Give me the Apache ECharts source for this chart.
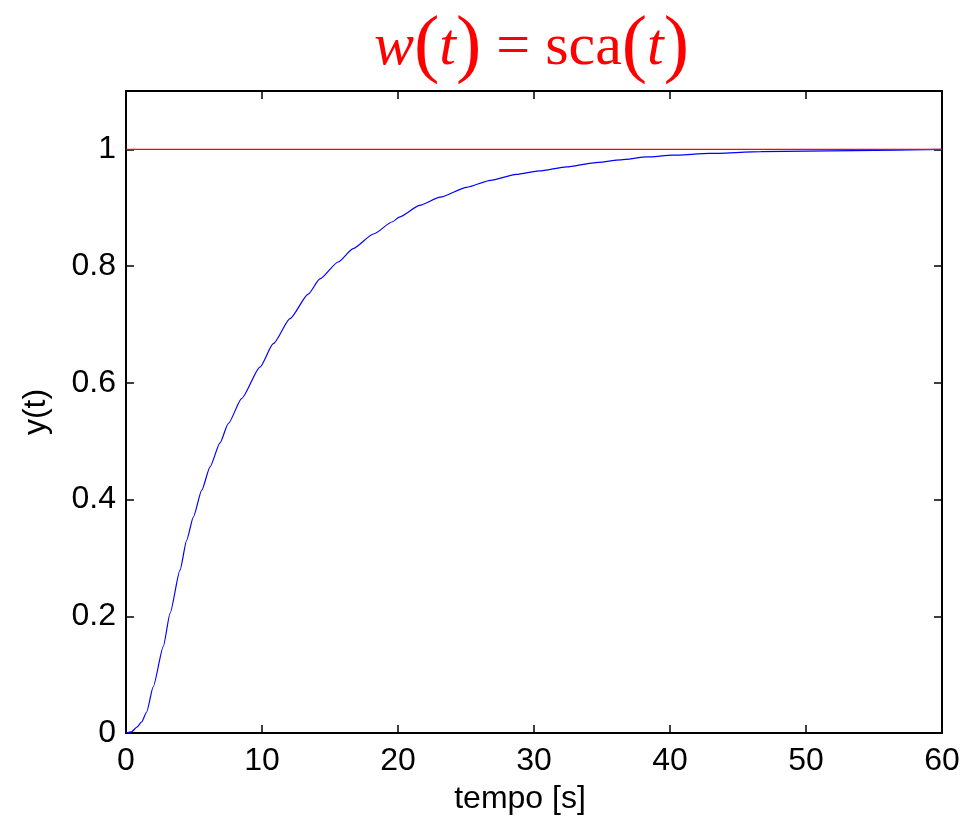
<!DOCTYPE html>
<html>
<head>
<meta charset="utf-8">
<script src="https://cdn.jsdelivr.net/npm/echarts@6/dist/echarts.min.js"></script>
<style>html,body{margin:0;padding:0;background:#fff;}#c{width:969px;height:820px;}</style>
</head>
<body>
<div id="c"></div>
<script>
const timeValues = [0, 0.4, 0.8, 1.15, 1.52, 2.0, 2.74, 3.24, 3.97, 4.46, 4.95, 5.57, 6.18, 6.91, 7.52, 8.5, 9.85, 10.83, 12.06, 13.4, 14.26, 15.6, 16.7, 18.2, 19.6, 20.1, 21.6, 23.1, 25.05, 26.8, 28.7, 30.4, 32.4, 34.4, 36.4, 38.3, 40.2, 42.9, 46.7, 50, 53.5, 60];
const outputValues = [0, 0.002, 0.010, 0.019, 0.036, 0.079, 0.148, 0.205, 0.279, 0.330, 0.370, 0.416, 0.456, 0.497, 0.530, 0.573, 0.627, 0.667, 0.710, 0.752, 0.778, 0.807, 0.830, 0.855, 0.876, 0.884, 0.904, 0.918, 0.935, 0.947, 0.957, 0.963, 0.970, 0.977, 0.982, 0.987, 0.990, 0.993, 0.996, 0.997, 0.998, 1.0];
const refTimes = [0, 60];
const refValues = [1, 1];
const xTicks = [0, 10, 20, 30, 40, 50, 60];
const yTicks = [0, 0.2, 0.4, 0.6, 0.8, 1];

const chart = echarts.init(document.getElementById('c'), null, {renderer: 'canvas'});
const axisLine = {show: true, onZero: false, lineStyle: {color: '#000', width: 2}};
const axisTick = {show: true, inside: true, length: 8, lineStyle: {color: '#000', width: 1.5}};
const lblFont = {color: '#000', fontFamily: 'Liberation Sans, Arial, sans-serif', fontSize: 32, fontWeight: 'normal'};
const serif = 'Liberation Serif, Times New Roman, serif';
chart.setOption({
  animation: false,
  backgroundColor: '#fff',
  title: {
    left: 369, top: 5,
    text: '{i|w}{p|(}{i|t}{p|)}{n| = sca}{p|(}{i|t}{p|)}',
    textStyle: {
      fontWeight: 'normal',
      rich: {
        i: {fontFamily: serif, fontStyle: 'italic', fontWeight: 'normal', fontSize: 60, color: '#ff0000'},
        n: {fontFamily: serif, fontWeight: 'normal', fontSize: 60, color: '#ff0000'},
        p: {fontFamily: serif, fontWeight: 'normal', fontSize: 76, color: '#ff0000'}
      }
    }
  },
  grid: {left: 126, right: 27, top: 91, bottom: 87, containLabel: false},
  xAxis: [{
    type: 'value', min: 0, max: 60, interval: 10, position: 'bottom',
    axisLine, axisTick, splitLine: {show: false},
    axisLabel: Object.assign({margin: 12}, lblFont),
    name: 'tempo [s]', nameLocation: 'middle', nameGap: 50,
    nameTextStyle: Object.assign({padding: [0, 28, 0, 0]}, lblFont)
  }, {
    type: 'value', min: 0, max: 60, interval: 10, position: 'top',
    axisLine, axisTick, splitLine: {show: false}, axisLabel: {show: false}
  }],
  yAxis: [{
    type: 'value', min: 0, max: 1.1, interval: 0.2, position: 'left',
    axisLine, axisTick, splitLine: {show: false},
    axisLabel: Object.assign({margin: 10, showMaxLabel: false,
      formatter: v => (yTicks.some(t => Math.abs(t - v) < 1e-9) ? String(+v.toFixed(1)) : '')}, lblFont),
    name: 'y(t)', nameLocation: 'middle', nameGap: 74, nameRotate: 90,
    nameTextStyle: lblFont
  }, {
    type: 'value', min: 0, max: 1.1, interval: 0.2, position: 'right',
    axisLine, axisTick, splitLine: {show: false}, axisLabel: {show: false}
  }],
  series: [{
    type: 'line', xAxisIndex: 0, yAxisIndex: 0,
    data: timeValues.map((t, i) => [t, outputValues[i]]),
    showSymbol: false, smooth: 0.2, smoothMonotone: 'x',
    lineStyle: {color: '#0000ff', width: 1.2}
  }, {
    type: 'line', xAxisIndex: 0, yAxisIndex: 0,
    data: refTimes.map((t, i) => [t, refValues[i]]),
    showSymbol: false,
    lineStyle: {color: '#ff0000', width: 1.2}
  }]
});
</script>
</body>
</html>
